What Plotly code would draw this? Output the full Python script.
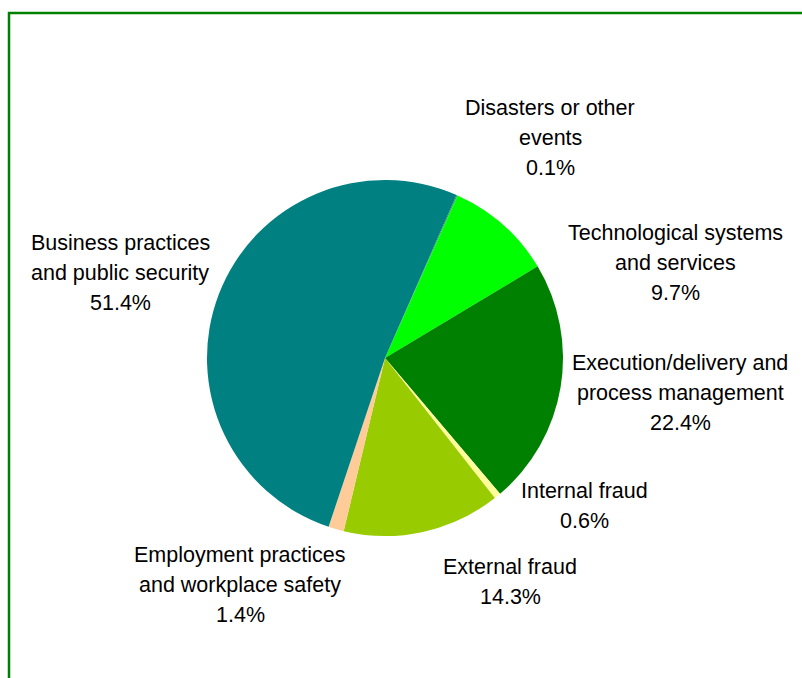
import plotly.graph_objects as go

# Operational loss event types, share of total (%)
categories = [
    "Disasters or other events",
    "Technological systems and services",
    "Execution/delivery and process management",
    "Internal fraud",
    "External fraud",
    "Employment practices and workplace safety",
    "Business practices and public security",
]
shares = [0.1, 9.7, 22.4, 0.6, 14.3, 1.4, 51.4]
colors = ["#339966", "#00FF00", "#008000", "#FFFF99", "#99CC00", "#FFCC99", "#008080"]

# Label wording broken into display lines (the percentage is appended from `shares`)
label_lines = [
    ["Disasters or other", "events"],
    ["Technological systems", "and services"],
    ["Execution/delivery and", "process management"],
    ["Internal fraud"],
    ["External fraud"],
    ["Employment practices", "and workplace safety"],
    ["Business practices", "and public security"],
]

W, H = 802, 678
cx, cy, r = 385, 358, 178

fig = go.Figure(
    go.Pie(
        labels=categories,
        values=shares,
        sort=False,
        direction="clockwise",
        rotation=23.7,
        marker=dict(colors=colors, line=dict(width=0)),
        textinfo="none",
        hoverinfo="label+percent",
        showlegend=False,
        domain=dict(
            x=[(cx - r) / W, (cx + r) / W],
            y=[(H - cy - r) / H, (H - cy + r) / H],
        ),
    )
)

# label anchor: centre x and y of first line (pixels from top-left)
label_pos = [
    (550, 108),
    (675, 233),
    (680, 363),
    (584, 491),
    (510, 567),
    (240, 555),
    (120, 243),
]
line_gap = 30

annotations = []
for lines, share, (lx, ly) in zip(label_lines, shares, label_pos):
    for i, txt in enumerate(lines + [f"{share:.1f}%"]):
        annotations.append(
            dict(
                x=lx / W,
                y=1 - (ly + i * line_gap) / H,
                xref="paper",
                yref="paper",
                text=txt,
                showarrow=False,
                xanchor="center",
                yanchor="middle",
                font=dict(family="Arial, Liberation Sans, sans-serif", size=21.5, color="#000000"),
            )
        )

fig.update_layout(
    width=W,
    height=H,
    margin=dict(l=0, r=0, t=0, b=0),
    paper_bgcolor="white",
    plot_bgcolor="white",
    annotations=annotations,
    shapes=[
        dict(
            type="rect",
            xref="paper",
            yref="paper",
            x0=9 / W,
            x1=1.02,
            y0=-0.02,
            y1=1 - 13 / H,
            line=dict(color="#008000", width=2.5),
            fillcolor="rgba(0,0,0,0)",
        )
    ],
)

fig.write_html("out.html")
